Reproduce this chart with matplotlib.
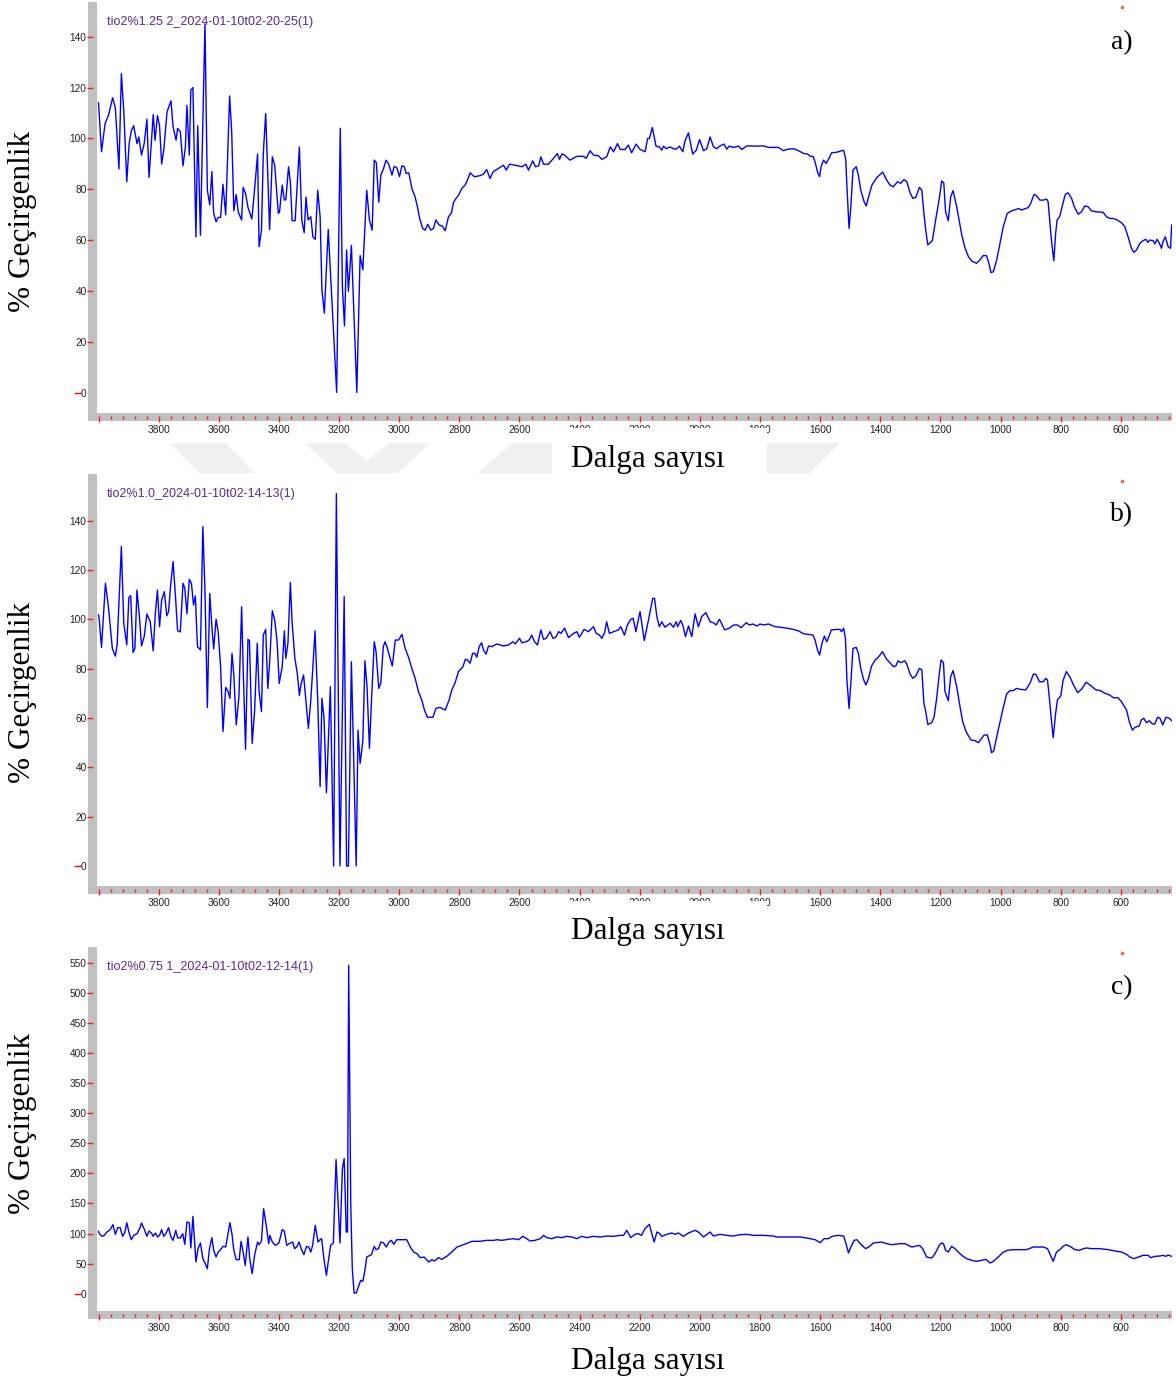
import matplotlib
matplotlib.use('Agg')
import matplotlib.pyplot as plt
from matplotlib.patches import Rectangle, Polygon
from matplotlib.lines import Line2D
import numpy as np

W, H = 1176, 1379

# ---------------- data ----------------
wn_a = [4000, 3990, 3978, 3967, 3953, 3944, 3932, 3924, 3916, 3906, 3898, 3891, 3883, 3872, 3866, 3857, 3848, 3839,
        3832, 3826, 3818, 3812, 3804, 3797, 3790, 3783, 3772, 3759, 3752, 3742, 3737, 3728, 3719, 3711, 3706, 3698,
        3693, 3686, 3676, 3670, 3661, 3646, 3638, 3630, 3623, 3617, 3609, 3602, 3594, 3586, 3577, 3564, 3557, 3550,
        3542, 3535, 3524, 3519, 3511, 3503, 3490, 3481, 3471, 3466, 3458, 3452, 3444, 3431, 3422, 3414, 3402, 3398,
        3389, 3382, 3377, 3368, 3362, 3356, 3346, 3332, 3324, 3316, 3310, 3303, 3294, 3287, 3279, 3271, 3263, 3257,
        3249, 3236, 3208, 3196, 3189, 3182, 3175, 3169, 3159, 3141, 3130, 3121, 3108, 3099, 3090, 3083, 3076, 3068,
        3061, 3052, 3044, 3035, 3024, 3017, 3008, 2999, 2991, 2983, 2977, 2968, 2958, 2947, 2939, 2932, 2922, 2914,
        2905, 2895, 2886, 2878, 2867, 2857, 2847, 2836, 2827, 2819, 2811, 2802, 2792, 2781, 2773, 2764, 2750, 2731,
        2720, 2709, 2698, 2687, 2676, 2653, 2644, 2633, 2614, 2592, 2579, 2570, 2556, 2547, 2536, 2529, 2520, 2504,
        2487, 2474, 2467, 2459, 2450, 2432, 2409, 2387, 2378, 2365, 2354, 2337, 2326, 2310, 2298, 2287, 2274, 2265,
        2249, 2238, 2227, 2212, 2199, 2182, 2174, 2168, 2158, 2146, 2135, 2127, 2121, 2112, 2099, 2088, 2079, 2068,
        2057, 2049, 2038, 2024, 2012, 2001, 1988, 1977, 1966, 1955, 1944, 1933, 1920, 1911, 1903, 1889, 1872, 1861,
        1844, 1817, 1789, 1772, 1739, 1722, 1711, 1689, 1672, 1655, 1642, 1633, 1624, 1617, 1609, 1602, 1597, 1589,
        1580, 1571, 1562, 1545, 1528, 1522, 1515, 1511, 1504, 1498, 1491, 1480, 1473, 1465, 1454, 1447, 1439, 1428,
        1412, 1392, 1379, 1368, 1357, 1343, 1332, 1321, 1312, 1301, 1292, 1282, 1270, 1262, 1255, 1249, 1242, 1227,
        1216, 1203, 1196, 1189, 1183, 1174, 1166, 1158, 1146, 1138, 1129, 1118, 1107, 1096, 1080, 1069, 1058, 1047,
        1039, 1032, 1024, 1013, 1002, 991, 978, 963, 947, 939, 930, 908, 900, 889, 883, 869, 858, 847, 842, 831, 823,
        817, 812, 803, 794, 785, 776, 764, 755, 742, 731, 720, 709, 698, 681, 659, 648, 637, 626, 612, 598, 587, 576,
        565, 557, 548, 537, 526, 517, 510, 504, 493, 487, 480, 473, 465, 460, 452, 443, 435, 431]
t_a = [114, 94.8, 106, 109, 116, 112, 88, 125.5, 111, 83, 98, 103, 105, 98, 100.6, 93.5, 98, 107.6,
       84.7, 95.4, 109.4, 99.3, 109, 105, 90, 95.4, 110.5, 114.8, 104.6, 99.3, 104, 102.6, 89.3, 96.7, 113, 93.5,
       119, 120, 61.4, 105, 62, 145, 79.7, 74, 87, 70.6, 67.3, 69, 69, 82, 70, 116.7, 102.6, 71.6,
       78, 71, 68, 80.8, 78.4, 73, 68.4, 80, 93.9, 57.5, 64, 93.9, 109.8, 64.3, 92.8, 89.5, 70.6, 71.2,
       81.7, 75.8, 76, 88.9, 83, 67.7, 67.7, 96.7, 68, 63, 77, 68, 69.3, 61.4, 60.4, 79.7, 69.3, 40.5,
       31.4, 64.3, 0.3, 104, 41.8, 26.4, 56.2, 40, 58, 0.3, 54, 48.4, 79.7, 68, 64, 91.5, 90.5, 75,
       85.6, 88.2, 91.5, 90, 85.6, 89, 88.6, 85, 89.3, 88.9, 86.3, 86.5, 80.4, 77, 73, 68.6, 64.7, 64,
       66.3, 64, 64.7, 68, 66, 65.6, 63.8, 69.3, 70.6, 75, 76.5, 77.8, 80.4, 81.7, 83.7, 86.5, 85, 85.4,
       86, 87.8, 84.3, 87, 87.8, 89.5, 87.6, 89.9, 89.5, 88.9, 89.9, 87.6, 91.2, 88.9, 89.3, 92.8, 89.9, 89.9,
       92.2, 94.1, 91.8, 93.9, 93.5, 91.5, 93, 93, 92.2, 95.2, 93.5, 93.2, 91.8, 92.8, 96.7, 94.8, 98, 95.7,
       95.7, 97.4, 94.4, 97.8, 95.7, 94.8, 100, 100, 104.3, 97, 96.7, 95.4, 97, 96, 96.7, 96, 95.8, 97,
       94.8, 99.3, 102.2, 93.9, 95.4, 99.6, 95.2, 96, 100.6, 96.7, 96, 97.1, 97.8, 95.8, 97, 96.5, 97, 95.7,
       97.1, 97, 97.1, 96.5, 96.5, 95.2, 95.7, 96, 95.2, 94.1, 93.9, 93, 93, 90.8, 86.9, 85, 88.9, 91.5,
       90.2, 92.2, 94.4, 94.6, 95.2, 95.4, 91.8, 81, 64.7, 73.2, 87.6, 88.9, 85.6, 79.7, 75.2, 73.5, 77.1, 81.7,
       84.6, 86.8, 83.7, 81.7, 81, 83, 82.4, 83.9, 83, 78.7, 76.5, 76.9, 80.8, 79.7, 70.6, 64, 58.2, 59.9,
       68, 77.1, 83.3, 82.6, 71.2, 67.7, 77.1, 79.5, 73.2, 68, 62, 56.9, 53.6, 51.9, 51, 52.3, 54, 54,
       51, 47.3, 47.7, 52.3, 58.8, 65.4, 70.6, 71.6, 72.2, 72.5, 71.9, 72.9, 74.5, 78, 77.8, 75.8, 75.8, 76.2, 75.2, 60.1, 52,
       62.7, 68, 69.5, 73.9, 78, 78.7, 76.5, 73.2, 70.3, 71.2, 73.5, 73.2, 71.6, 71.2, 71, 69.3, 68.6, 68.6, 68, 66.9, 65.4, 61.4,
       56.9, 55.3, 56.2, 58.8, 59.9, 60.4, 59.2, 60.1, 59.9, 58.6, 60.4, 59.1, 56.9, 59.5, 61.4, 57.5, 56.9, 66]

wn_b = [4000, 3998, 3990, 3977, 3967, 3954, 3944, 3938, 3924, 3916, 3906, 3899, 3893, 3885, 3879, 3872, 3863, 3857,
        3848, 3839, 3828, 3818, 3811, 3804, 3797, 3790, 3781, 3773, 3767, 3760, 3752, 3744, 3737, 3728, 3719, 3713,
        3706, 3698, 3691, 3684, 3678, 3671, 3661, 3653, 3646, 3638, 3630, 3623, 3617, 3609, 3602, 3594, 3586, 3577,
        3569, 3563, 3556, 3550, 3542, 3533, 3524, 3519, 3511, 3503, 3498, 3489, 3481, 3472, 3466, 3458, 3452, 3444,
        3437, 3431, 3422, 3414, 3406, 3399, 3389, 3382, 3377, 3370, 3362, 3356, 3347, 3339, 3332, 3326, 3318, 3310,
        3302, 3294, 3287, 3280, 3271, 3263, 3257, 3250, 3242, 3229, 3218, 3209, 3197, 3183, 3175, 3169, 3159, 3143,
        3137, 3130, 3121, 3114, 3107, 3099, 3092, 3083, 3077, 3068, 3061, 3053, 3047, 3041, 3023, 3013, 3002, 2991,
        2980, 2969, 2958, 2947, 2936, 2925, 2916, 2906, 2888, 2878, 2864, 2847, 2834, 2825, 2814, 2803, 2788, 2780,
        2773, 2764, 2756, 2748, 2742, 2734, 2726, 2720, 2711, 2703, 2692, 2675, 2653, 2637, 2622, 2614, 2600, 2592,
        2578, 2568, 2559, 2550, 2540, 2529, 2520, 2511, 2498, 2489, 2479, 2470, 2462, 2450, 2437, 2420, 2409, 2401,
        2385, 2371, 2354, 2345, 2334, 2326, 2317, 2310, 2301, 2287, 2271, 2263, 2251, 2241, 2230, 2222, 2213, 2199,
        2185, 2171, 2157, 2151, 2143, 2135, 2127, 2116, 2099, 2088, 2079, 2074, 2064, 2057, 2048, 2038, 2027, 2016,
        2005, 1994, 1980, 1966, 1955, 1946, 1935, 1927, 1918, 1902, 1888, 1875, 1863, 1846, 1835, 1824, 1810, 1800,
        1789, 1772, 1750, 1733, 1711, 1689, 1672, 1655, 1639, 1624, 1617, 1609, 1602, 1594, 1586, 1578, 1571, 1563,
        1545, 1534, 1529, 1522, 1516, 1511, 1504, 1498, 1491, 1480, 1473, 1465, 1456, 1448, 1439, 1429, 1417, 1405,
        1393, 1379, 1367, 1356, 1348, 1341, 1332, 1319, 1312, 1301, 1292, 1282, 1270, 1262, 1255, 1249, 1242, 1229,
        1221, 1212, 1205, 1198, 1190, 1185, 1174, 1166, 1158, 1146, 1135, 1126, 1115, 1099, 1085, 1074, 1063, 1055,
        1044, 1035, 1030, 1023, 1008, 993, 980, 969, 958, 947, 935, 916, 902, 891, 882, 871, 858, 850, 844, 836, 830,
        825, 817, 811, 800, 792, 781, 769, 756, 744, 733, 725, 716, 705, 683, 668, 653, 637, 625, 609, 598, 581, 572,
        562, 553, 539, 532, 524, 515, 506, 495, 487, 478, 470, 461, 450, 439, 431]
t_b = [101.8, 100.4, 88.6, 114.6, 105, 88.2, 85.1, 89.6, 129.5, 98.4, 89.6, 108.9, 109.6, 86.5, 88.2, 111.9, 99.7, 89.2,
       93, 102.2, 99, 87.2, 102.4, 111.9, 97, 107.8, 111.2, 101.4, 103.1, 113.9, 123.4, 109.2, 95.4, 94.9, 114.6, 112.6,
       102.2, 116.2, 114.6, 105.8, 109.5, 88.9, 87.6, 137.6, 111.9, 64.3, 110.5, 97, 88, 100, 95, 80.8, 54.5, 72.4,
       70.7, 68, 86.2, 77.4, 57.2, 68.6, 105.1, 80.8, 47.3, 91.9, 91.4, 49.7, 62.6, 90.3, 70.7, 62.6, 93.6, 95.9,
       72, 82.2, 103.5, 99.7, 90.9, 74, 80.8, 95.3, 84.2, 90.3, 114.9, 98.4, 84.2, 78.1, 69.1, 74, 77.4, 66.6,
       55.8, 67.3, 80.8, 95.3, 67.3, 32.2, 68, 59.9, 29.7, 72.7, 0, 151, 0, 109.2, 0, 0, 82.8, 0,
       55.1, 41.6, 50.4, 83.2, 72.7, 47.7, 67.3, 90.9, 86.9, 72, 74.3, 88.9, 90.9, 88.9, 81.1, 91.6, 91.6, 93.9,
       88.2, 84.6, 80.1, 76.1, 70.7, 67.3, 63.2, 60.3, 60.3, 63.9, 64.3, 63.2, 67.3, 71.4, 74.3, 78.8, 80.8, 83.8,
       83.5, 82.2, 86.2, 86.2, 84.6, 88.9, 90.5, 87.6, 85.9, 89.2, 88.9, 90, 89.2, 89.6, 90.9, 90, 92.3, 90.5,
       90.9, 91.6, 93.6, 90.9, 89.6, 95.7, 91.9, 92.3, 95, 92.3, 92.7, 95, 94.3, 96.4, 92.6, 94.3, 95, 92.7,
       95.9, 95, 97, 94.3, 93.6, 92.3, 94.6, 99, 94.3, 95, 95.7, 97, 93.6, 97.7, 100, 100.4, 95, 103.1,
       91.4, 99.7, 108.5, 108.5, 101, 97, 99, 96.8, 98.4, 96.8, 99, 97, 99.5, 97.7, 93, 97.3, 93, 102.2,
       97, 101.1, 102.7, 99, 98.6, 97.7, 100, 98.1, 95.7, 96.4, 97.7, 97.7, 96.6, 98.6, 97.7, 98.1, 97.3, 98.1,
       97.7, 98.1, 97, 96.8, 96.4, 95.9, 95.3, 94.1, 93.9, 93.6, 91.6, 87.6, 85.5, 90.3, 93.2, 90.9, 93, 95.7,
       95.9, 95.9, 95, 96.4, 92.3, 75.4, 63.9, 74.1, 88.2, 88.6, 86.2, 80.1, 75.7, 73.4, 76.1, 81.1, 83.5, 84.9,
       86.9, 83.8, 82.2, 80.8, 81.2, 83.2, 82.4, 83.2, 81.9, 77.8, 76.1, 77, 80.1, 79.5, 65.9, 62.6, 57.4, 58.1,
       60.5, 68.6, 76.8, 83.5, 82.4, 70.7, 67, 76.8, 79.2, 72.7, 64.6, 58.5, 54.5, 51.1, 50.8, 50, 51.8, 53.1,
       53.1, 49.1, 45.9, 46.6, 55.1, 63.2, 69.7, 71.1, 71.1, 72, 71.6, 71.4, 74.1, 77.8, 77.6, 74.7, 74.7, 76.1, 75.4, 65.9, 57.8,
       52, 61.9, 67.3, 68.9, 75.4, 78.8, 76.5, 73, 70.3, 71.4, 72.7, 74.5, 73.6, 71.4, 71.1, 70, 69.3, 68.2, 68.2, 66.6, 63.2, 58.5,
       55.1, 56.2, 56.8, 59.2, 59.9, 58.1, 58.9, 57.6, 57.6, 60.3, 59.9, 57.2, 60.3, 59.9, 58.9]

wn_c = [4000, 3997, 3989, 3981, 3972, 3961, 3952, 3944, 3936, 3928, 3920, 3913, 3906, 3899, 3891, 3883, 3872, 3863,
        3857, 3848, 3839, 3832, 3824, 3818, 3811, 3803, 3797, 3790, 3783, 3776, 3767, 3759, 3752, 3743, 3737, 3728,
        3720, 3713, 3706, 3698, 3693, 3686, 3676, 3669, 3661, 3653, 3646, 3638, 3631, 3623, 3617, 3609, 3602, 3594,
        3586, 3577, 3563, 3556, 3550, 3542, 3532, 3526, 3519, 3512, 3503, 3497, 3489, 3481, 3471, 3466, 3458, 3451,
        3443, 3434, 3430, 3422, 3412, 3400, 3389, 3382, 3374, 3366, 3354, 3348, 3341, 3333, 3326, 3317, 3308, 3301,
        3294, 3288, 3279, 3270, 3263, 3258, 3250, 3242, 3236, 3228, 3219, 3210, 3197, 3189, 3183, 3176, 3172, 3168,
        3161, 3156, 3150, 3143, 3136, 3128, 3121, 3114, 3108, 3092, 3083, 3077, 3069, 3061, 3052, 3043, 3034, 3026,
        3018, 3008, 2991, 2975, 2963, 2952, 2941, 2930, 2917, 2902, 2891, 2883, 2869, 2858, 2842, 2825, 2808, 2786,
        2770, 2758, 2731, 2709, 2686, 2675, 2659, 2637, 2620, 2603, 2589, 2576, 2565, 2548, 2531, 2520, 2509, 2493,
        2476, 2459, 2443, 2426, 2409, 2393, 2376, 2354, 2332, 2310, 2288, 2265, 2254, 2243, 2230, 2216, 2205, 2194,
        2183, 2168, 2160, 2152, 2143, 2136, 2127, 2110, 2094, 2083, 2071, 2055, 2038, 2016, 2005, 1988, 1966, 1955,
        1933, 1911, 1889, 1867, 1844, 1822, 1789, 1756, 1745, 1700, 1666, 1633, 1617, 1600, 1587, 1572, 1561, 1539,
        1522, 1514, 1506, 1498, 1487, 1478, 1467, 1449, 1439, 1423, 1395, 1379, 1362, 1334, 1318, 1307, 1295, 1279,
        1270, 1259, 1246, 1229, 1218, 1204, 1196, 1190, 1183, 1174, 1163, 1152, 1141, 1129, 1113, 1096, 1080, 1063,
        1049, 1035, 1024, 1008, 993, 978, 958, 936, 914, 891, 875, 858, 844, 834, 825, 814, 803, 792, 783, 769,
        753, 738, 725, 714, 697, 670, 642, 620, 598, 581, 570, 557, 542, 526, 509, 501, 487, 470, 461, 450, 443, 431]
t_c = [103.7, 99.8, 95.4, 97, 102.6, 106.5, 114.8, 98.7, 109.8, 109.8, 95.4, 100.9, 118.1, 102.6, 89.8, 97, 99.8, 108.1,
       117.5, 107.6, 95.4, 104.2, 100.9, 95.4, 100.9, 94.3, 97, 106.5, 95.4, 99.8, 109.8, 94.3, 88.7, 105.3, 93.1, 92.6,
       99.8, 82.1, 119.2, 117.5, 76, 128.6, 52.7, 74.9, 84.3, 58.2, 51, 41.6, 74.9, 93.1, 72.1, 61, 69.3, 73.2,
       78.7, 77.6, 118.1, 98.7, 72.1, 56.6, 56.6, 87, 69.3, 47.1, 94.3, 58.2, 33.3, 63.8, 85.9, 81.5, 87.6, 141.4,
       116.4, 83.2, 97, 85.9, 80.4, 84.3, 106.5, 104.2, 80.4, 83.2, 85.9, 74.9, 77.6, 85.9, 74.9, 64.9, 78.7, 77.6,
       69.3, 80.4, 113.7, 85.9, 89.8, 91.5, 56.6, 30.5, 52.7, 80.4, 84.3, 222.9, 84.3, 207.9, 224.6, 102.6, 102.6, 546.1,
       144.2, 41.6, 1.1, 1.1, 11.1, 22.2, 20.5, 38.8, 61, 64.9, 78.7, 73.2, 74.9, 85.9, 84.3, 77.6, 85.9, 88.7,
       82.1, 89.8, 89.8, 89.8, 77.6, 69.3, 66.5, 59.9, 61, 52.7, 56.6, 54.3, 59.9, 57.1, 62.1, 69.3, 77.6, 81.5,
       84.8, 87.1, 87.1, 88.7, 88.7, 89.8, 88.7, 90.4, 91.5, 89.8, 95.4, 91.5, 87.6, 88.7, 91.5, 97, 93.2, 91.5,
       94.3, 93.2, 95.4, 94.3, 91.5, 95.4, 93.2, 95.4, 94.3, 95.9, 95.4, 97, 97, 105.4, 93.2, 98.7, 99.8, 97,
       108.1, 115.3, 99.8, 86, 102.6, 100.9, 95.4, 98.7, 100.9, 98.7, 100.9, 95.4, 100.9, 105.4, 102.6, 94.3, 102.6, 95.9,
       98.7, 97, 95.9, 98.1, 98.7, 97, 97, 95.9, 94.3, 94.3, 94.3, 91.5, 89.8, 84.8, 91.5, 91.5, 95.4, 97,
       95.9, 83.2, 67.7, 77.6, 88.7, 89.8, 83.2, 74.9, 77.6, 84.3, 85.9, 83.2, 81.5, 83.2, 83.2, 80.4, 77.6, 79.3,
       80.4, 74.9, 61, 59.3, 66.5, 80.4, 84.3, 83.2, 72.1, 69.3, 78.7, 74.9, 69.3, 63.8, 58.2, 55.5, 53.8, 55.5,
       57.1, 51, 53.8, 61, 68.2, 72.1, 73.2, 73.2, 73.2, 77.6, 77.6, 77.6, 74.9, 63.8, 53.8, 69.3, 73.2, 78.7, 81.5, 78.7,
       73.2, 72.1, 74.9, 76, 74.9, 74.9, 73.2, 71, 69.3, 65.4, 61, 58.2, 61, 63.8, 63.8, 59.9, 62.1, 62.7, 63.8, 62.1, 64.3, 62.1]

x_major = list(range(4000, 599, -200))
x_labels = [''] + [str(v) for v in range(3800, 599, -200)]
x_minor = list(range(4000, 439, -40))

yt_ab = [0, 20, 40, 60, 80, 100, 120, 140]
yt_c = [0, 50, 100, 150, 200, 250, 300, 350, 400, 450, 500, 550]

titles = ['tio2%1.25 2_2024-01-10t02-20-25(1)',
          'tio2%1.0_2024-01-10t02-14-13(1)',
          'tio2%0.75 1_2024-01-10t02-12-14(1)']
letters = ['a)', 'b)', 'c)']

# ---------------- figure ----------------
plt.rcParams['font.family'] = ['Liberation Sans', 'DejaVu Sans']
serif = ['Liberation Serif', 'DejaVu Serif']
bar_gray = '#c0c0c0'


def fx(x):
    return x / W


def fy(y):
    return 1 - y / H


fig = plt.figure(figsize=(W / 100, H / 100), dpi=100)
fig.patch.set_facecolor('white')


def box(x0, y0, x1, y1, color, z):
    fig.add_artist(Rectangle((fx(x0), fy(y1)), fx(x1) - fx(x0), (y1 - y0) / H,
                             transform=fig.transFigure, facecolor=color, edgecolor='none', zorder=z))


def panel(top, bottom, wn, t, yt, ylim, title, letter, ylab_y, xlab_y, dot_y):
    ax = fig.add_axes([fx(97), fy(bottom), fx(1172) - fx(97), (bottom - top) / H])
    ax.plot(wn, t, color='#0000ff', lw=1.0)
    ax.set_xlim(4005, 430)
    ax.set_ylim(*ylim)
    for s in ax.spines.values():
        s.set_visible(False)
    ax.spines['left'].set_position(('outward', 2.7))
    ax.spines['bottom'].set_position(('outward', 2.2))

    ax.set_xticks(x_major)
    ax.set_xticklabels(x_labels)
    ax.set_xticks(x_minor, minor=True)
    ax.set_yticks(yt)
    ax.set_yticklabels([str(v) for v in yt])
    ax.tick_params(axis='x', which='major', color='#ff1a1a', length=4, width=1.0, pad=2.5,
                   labelsize=7.3, labelcolor='#222222')
    ax.tick_params(axis='x', which='minor', color='#ff1a1a', length=2.5, width=1.0)
    ax.tick_params(axis='y', which='major', color='#ff1a1a', length=4.3, width=1.0, pad=0.5,
                   labelsize=7.3, labelcolor='#222222')
    for tk, v in zip(ax.yaxis.get_major_ticks(), yt):
        if v == 0:
            tk.tick1line.set_visible(False)

    # gray frame bars
    box(88, top, 97, bottom + 8, bar_gray, -1)
    box(88, bottom, 1172, bottom + 8, bar_gray, -1)

    # red dash in front of the zero label
    y0 = bottom - (0 - ylim[0]) / (ylim[1] - ylim[0]) * (bottom - top)
    fig.add_artist(Line2D([fx(75), fx(81)], [fy(y0), fy(y0)], color='red', lw=1.0))

    fig.text(fx(107), fy(top + 20), title, color='#5b2a90', fontsize=9, ha='left', va='center')
    fig.text(fx(1122), fy(top + 41), letter, fontsize=20, family=serif, ha='center', va='center')
    fig.text(fx(23), fy(ylab_y), '% Geçirgenlik', fontsize=22.5, family=serif, rotation=90,
             ha='center', va='center')
    fig.text(fx(648), fy(xlab_y), 'Dalga sayısı', fontsize=22.5, family=serif,
             ha='center', va='center', zorder=7)
    fig.add_artist(Line2D([fx(1122)], [fy(dot_y)], marker='s', markersize=1.5, color='#ff6060', lw=0))
    return ax


# watermark shapes behind the first x-axis title
wm = '#f0f0f0'
for pts in [[(170, 443), (226, 443), (255, 473), (199, 473)],
            [(305, 443), (345, 443), (367, 461), (390, 443), (430, 443), (398, 473), (337, 473)],
            [(478, 473), (512, 443), (552, 443), (552, 473)],
            [(767, 443), (840, 443), (810, 473), (767, 473)]]:
    fig.add_artist(Polygon([(fx(x), fy(y)) for x, y in pts], closed=True, transform=fig.transFigure,
                           facecolor=wm, edgecolor='none', zorder=-2))

panel(2, 413, wn_a, t_a, yt_ab, (-7.8, 153.6), titles[0], letters[0], 221, 460, 7)
panel(474, 886, wn_b, t_b, yt_ab, (-8.1, 158.9), titles[1], letters[1], 692, 932, 481)
panel(947, 1311, wn_c, t_c, yt_c, (-28.8, 576.6), titles[2], letters[2], 1123, 1361, 953)

# white boxes of the pasted axis titles cut the middle tick labels
box(552, 428, 767, 474, 'white', 5)
box(552, 901, 767, 946, 'white', 5)

fig.savefig('out.png', dpi=100, facecolor='white')
